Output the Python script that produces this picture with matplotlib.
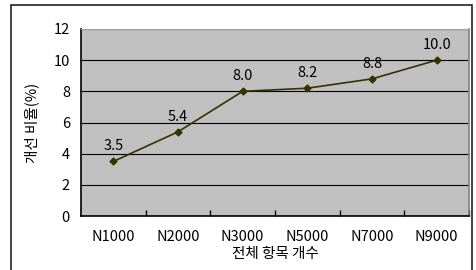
import matplotlib.pyplot as plt
from matplotlib.patches import Rectangle
from matplotlib.ticker import FixedLocator, NullFormatter

plt.rcParams['font.family'] = ['Noto Sans CJK KR', 'DejaVu Sans']

categories = ['N1000', 'N2000', 'N3000', 'N5000', 'N7000', 'N9000']
ratios = [3.5, 5.4, 8.0, 8.2, 8.8, 10.0]
yticks = [0, 2, 4, 6, 8, 10, 12]

fs = 10.5

fig = plt.figure(figsize=(4.77, 2.70), dpi=100)
fig.patch.set_facecolor('white')

# outer chart frame (bottom edge cut off like the source)
fig.patches.append(Rectangle((11 / 477, -0.05), 461 / 477, 1.05 - 5 / 270,
                             transform=fig.transFigure, fill=False,
                             edgecolor='#222222', linewidth=1.2))

ax = fig.add_axes([81 / 477, 1 - 216 / 270, 388 / 477, 187 / 270])
ax.set_facecolor('#c0c0c0')

x = list(range(len(categories)))
ax.plot(x, ratios, color='#333300', linewidth=1.2, marker='D',
        markersize=3.5, markerfacecolor='#333300', markeredgecolor='#333300',
        zorder=3)
for xi, v in zip(x, ratios):
    ax.annotate(f'{v:.1f}', (xi, v), xytext=(0, 6), textcoords='offset points',
                ha='center', va='bottom', fontsize=fs, color='black')

ax.set_xlim(-0.5, len(categories) - 0.5)
ax.set_ylim(0, 12)
ax.set_yticks(yticks)
ax.grid(axis='y', color='black', linewidth=0.8)
ax.set_axisbelow(True)

ax.set_xticks(x)
ax.set_xticklabels(categories, fontsize=fs)
ax.xaxis.set_minor_locator(FixedLocator([i + 0.5 for i in x]))
ax.xaxis.set_minor_formatter(NullFormatter())
ax.tick_params(axis='x', which='major', length=0, pad=10)
ax.tick_params(axis='x', which='minor', direction='in', length=4, width=1)
ax.tick_params(axis='y', length=0, labelsize=fs, pad=8)

for side in ['left', 'bottom']:
    ax.spines[side].set_color('black')
    ax.spines[side].set_linewidth(1.2)
ax.spines['right'].set_color('#808080')
ax.spines['right'].set_linewidth(1.2)
ax.spines['top'].set_color('#a0a0a0')

ax.set_ylabel('개선 비율(%)', fontsize=fs, labelpad=10)
ax.set_xlabel('전체 항목 개수', fontsize=fs, labelpad=2)

fig.savefig('out.png', dpi=100)
